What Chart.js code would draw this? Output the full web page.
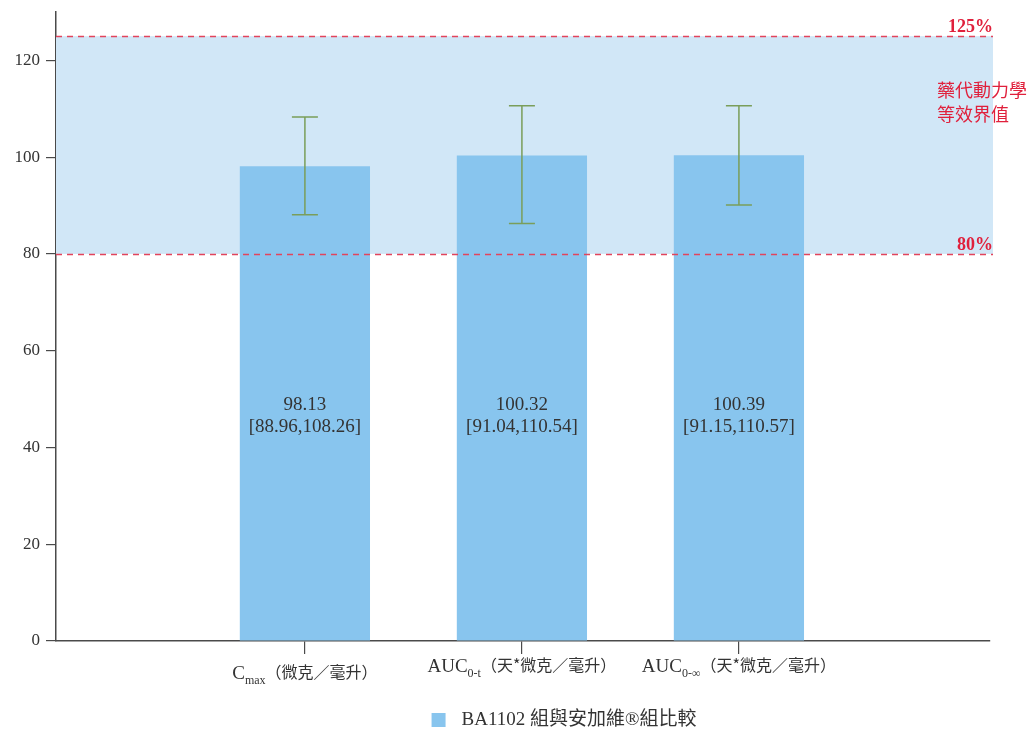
<!DOCTYPE html>
<html>
<head>
<meta charset="utf-8">
<script src="https://cdn.jsdelivr.net/npm/chart.js@4.4.0/dist/chart.umd.min.js"></script>
<style>
    html, body { margin: 0; padding: 0; background: #ffffff; }
    canvas { display: block; }
</style>
</head>
<body>
<canvas id="bioChart" width="1032" height="731"></canvas>
<script>
// Chart data
const categories = ['Cmax', 'AUC0-t', 'AUC0-∞'];
const labelMain = ['C', 'AUC', 'AUC'];
const labelSub = ['max', '0-t', '0-∞'];
const labelUnit = ['（微克／毫升）', '（天*微克／毫升）', '（天*微克／毫升）'];

const ratioValues = [98.13, 100.32, 100.39];
const ciLabelLow = [88.96, 91.04, 91.15];
const ciLabelHigh = [108.26, 110.54, 110.57];

// whisker ends as drawn in the picture
const whiskerLow = [88.1, 86.3, 90.1];
const whiskerHigh = [108.3, 110.6, 110.6];

const yTicks = [0, 20, 40, 60, 80, 100, 120];
const limitLow = 80;
const limitHigh = 125;
const limitLabels = ['80%', '125%'];
const bandNote = ['藥代動力學', '等效界值'];
const legendLabel = 'BA1102 組與安加維®組比較';

// Colors and fonts
const barColor = '#88C5EE';
const bandColor = '#D1E7F7';
const limitColor = '#E0203C';
const dashColor = '#E2445C';
const whiskerColor = '#7A9E5A';
const axisColor = '#4A4A4A';
const textColor = '#333333';
const serif = '"Liberation Serif", "DejaVu Serif", serif';
const cjk = '"Noto Sans CJK TC", "Noto Sans", sans-serif';

// Shaded equivalence band and dashed limit lines
const bandPlugin = {
    id: 'bandPlugin',
    beforeDatasetsDraw(chart) {
        const { ctx, chartArea, scales: { y } } = chart;
        const top = y.getPixelForValue(limitHigh);
        const bottom = y.getPixelForValue(limitLow);
        const right = chartArea.right + 3;

        ctx.save();
        ctx.fillStyle = bandColor;
        ctx.fillRect(chartArea.left, top, right - chartArea.left, bottom - top);
        ctx.restore();
    },
    afterDatasetsDraw(chart) {
        const { ctx, chartArea, scales: { y } } = chart;
        const right = chartArea.right + 3;

        ctx.save();
        ctx.strokeStyle = dashColor;
        ctx.lineWidth = 1.5;
        ctx.setLineDash([6, 5]);
        [limitLow, limitHigh].forEach(v => {
            const py = Math.round(y.getPixelForValue(v)) + 0.5;
            ctx.beginPath();
            ctx.moveTo(chartArea.left, py);
            ctx.lineTo(right, py);
            ctx.stroke();
        });
        ctx.setLineDash([]);

        // limit labels
        ctx.fillStyle = limitColor;
        ctx.font = 'bold 18px ' + serif;
        ctx.textAlign = 'right';
        ctx.textBaseline = 'alphabetic';
        ctx.fillText(limitLabels[0], right, y.getPixelForValue(limitLow) - 4);
        ctx.fillText(limitLabels[1], right, y.getPixelForValue(limitHigh) - 4);

        // note inside the band
        ctx.font = '18px ' + cjk;
        ctx.textAlign = 'left';
        ctx.textBaseline = 'middle';
        ctx.fillText(bandNote[0], chartArea.right - 53, 90);
        ctx.fillText(bandNote[1], chartArea.right - 53, 114);
        ctx.restore();
    }
};

// Error bars and value labels on the bars
const errorBarPlugin = {
    id: 'errorBars',
    afterDatasetsDraw(chart) {
        const { ctx, scales: { y } } = chart;
        const meta = chart.getDatasetMeta(0);

        ctx.save();
        ctx.strokeStyle = whiskerColor;
        ctx.lineWidth = 1.5;
        meta.data.forEach((bar, i) => {
            const top = y.getPixelForValue(whiskerHigh[i]);
            const bottom = y.getPixelForValue(whiskerLow[i]);
            ctx.beginPath();
            ctx.moveTo(bar.x, top);
            ctx.lineTo(bar.x, bottom);
            ctx.moveTo(bar.x - 13, top);
            ctx.lineTo(bar.x + 13, top);
            ctx.moveTo(bar.x - 13, bottom);
            ctx.lineTo(bar.x + 13, bottom);
            ctx.stroke();
        });

        ctx.fillStyle = textColor;
        ctx.font = '19px ' + serif;
        ctx.textAlign = 'center';
        ctx.textBaseline = 'middle';
        meta.data.forEach((bar, i) => {
            const mid = y.getPixelForValue(46.4);
            ctx.fillText(ratioValues[i].toFixed(2), bar.x, mid - 11);
            ctx.fillText('[' + ciLabelLow[i].toFixed(2) + ',' + ciLabelHigh[i].toFixed(2) + ']', bar.x, mid + 11);
        });
        ctx.restore();
    }
};

// Category labels with subscripts, and the legend
const labelPlugin = {
    id: 'labelPlugin',
    afterDraw(chart) {
        const { ctx, chartArea, scales: { x } } = chart;
        const mainFont = '19px ' + serif;
        const subFont = '12px ' + serif;
        const unitFont = '16px ' + cjk;

        ctx.save();
        ctx.fillStyle = textColor;
        ctx.textBaseline = 'alphabetic';
        ctx.textAlign = 'left';
        categories.forEach((cat, i) => {
            const base = chartArea.bottom + (i === 0 ? 38 : 31);
            ctx.font = mainFont;
            const w1 = ctx.measureText(labelMain[i]).width;
            ctx.font = subFont;
            const w2 = ctx.measureText(labelSub[i]).width;
            ctx.font = unitFont;
            const w3 = ctx.measureText(labelUnit[i]).width;
            let px = x.getPixelForValue(i + 1) - (w1 + w2 + w3) / 2;

            ctx.font = mainFont;
            ctx.fillText(labelMain[i], px, base);
            px += w1;
            ctx.font = subFont;
            ctx.fillText(labelSub[i], px, base + 5);
            px += w2;
            ctx.font = unitFont;
            ctx.fillText(labelUnit[i], px, base - 1);
        });

        // legend
        const legendY = 720;
        ctx.font = '19px ' + serif + ', ' + cjk;
        const textW = ctx.measureText(legendLabel).width;
        const startX = 564 - (14 + 16 + textW) / 2;
        ctx.fillStyle = barColor;
        ctx.fillRect(startX, legendY - 7, 14, 14);
        ctx.fillStyle = textColor;
        ctx.textBaseline = 'middle';
        ctx.fillText(legendLabel, startX + 30, legendY);
        ctx.restore();
    }
};

function initializeChart() {
    const canvas = document.getElementById('bioChart');
    const ctx = canvas.getContext('2d');

    new Chart(ctx, {
        type: 'bar',
        data: {
            datasets: [{
                label: legendLabel,
                data: ratioValues.map((v, i) => ({ x: i + 1, y: v })),
                backgroundColor: barColor,
                borderWidth: 0,
                barPercentage: 0.6,
                categoryPercentage: 1
            }]
        },
        options: {
            responsive: false,
            animation: false,
            layout: {
                padding: { top: 12, right: 42, bottom: 0, left: 0 }
            },
            plugins: {
                legend: { display: false },
                tooltip: { enabled: false }
            },
            scales: {
                x: {
                    type: 'linear',
                    offset: false,
                    min: -0.147,
                    max: 4.157,
                    afterBuildTicks: scale => {
                        scale.ticks = categories.map((c, i) => ({ value: i + 1 }));
                    },
                    afterFit: scale => {
                        scale.height = 90;
                        scale.paddingLeft = 0;
                        scale.paddingRight = 0;
                    },
                    grid: {
                        offset: false,
                        drawOnChartArea: false,
                        drawTicks: true,
                        tickLength: 13,
                        color: axisColor,
                        lineWidth: 1.2
                    },
                    border: { color: axisColor, width: 1.5 },
                    ticks: { callback: () => '' }
                },
                y: {
                    min: 0,
                    max: 130,
                    afterBuildTicks: scale => {
                        scale.ticks = yTicks.map(v => ({ value: v }));
                    },
                    afterFit: scale => {
                        scale.width = 56;
                        scale.paddingTop = 0;
                        scale.paddingBottom = 0;
                    },
                    grid: {
                        drawOnChartArea: false,
                        drawTicks: true,
                        tickLength: 10,
                        color: axisColor,
                        lineWidth: 1.2
                    },
                    border: { color: axisColor, width: 1.5 },
                    ticks: {
                        padding: 6,
                        color: textColor,
                        font: { family: serif, size: 17 }
                    }
                }
            }
        },
        plugins: [bandPlugin, errorBarPlugin, labelPlugin]
    });
}

initializeChart();
</script>
</body>
</html>
